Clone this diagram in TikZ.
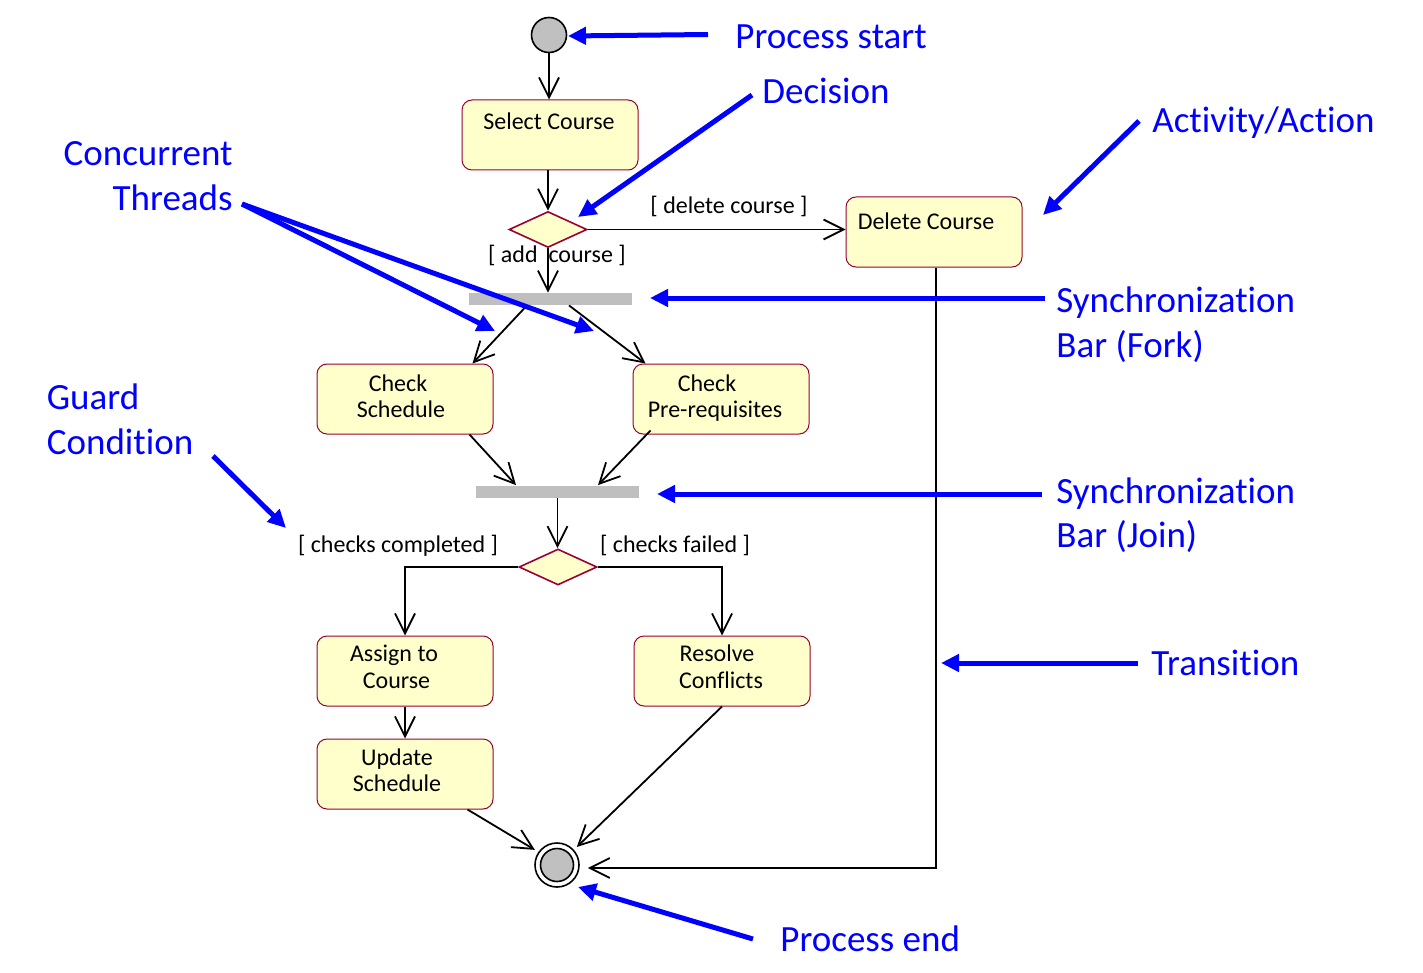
\documentclass[tikz,border=0pt]{standalone}
\usepackage{fontspec}
\setmainfont{Carlito}[Ligatures=NoCommon]
\usetikzlibrary{arrows.meta,shapes.geometric,calc}
\definecolor{boxfill}{HTML}{FFFFCC}
\definecolor{boxline}{HTML}{990033}
\definecolor{bargray}{HTML}{BFBFBF}
\definecolor{startgray}{HTML}{C0C0C0}
\definecolor{annblue}{HTML}{0000FF}
\begin{document}
\begin{tikzpicture}[x=0.5pt,y=-0.5pt,
  actbox/.style={draw=boxline, fill=boxfill, line width=0.5pt, rounded corners=5pt, minimum width=88pt, minimum height=35pt, inner sep=0pt},
  decbox/.style={diamond, draw=boxline, fill=boxfill, line width=0.8pt, minimum width=39pt, minimum height=18pt, inner sep=0pt},
  syncbar/.style={rectangle, fill=bargray, minimum width=81.5pt, minimum height=6pt, inner sep=0pt},
  txt/.style={anchor=base, font=\fontsize{12}{13.3}\selectfont, inner sep=0pt},
  ann/.style={anchor=base west, text=annblue, font=\fontsize{18.5}{22.5}\selectfont, inner sep=0pt},
  flow/.style={draw, line width=0.9pt, -{Straight Barb[length=10pt,width=10pt]}},
  point/.style={draw=annblue, line width=2.5pt, -{Triangle[length=9pt,width=8.5pt]}},
  pseudo/.style={circle, draw, line width=0.8pt, inner sep=0pt}
]
\fill[white] (0,0) rectangle (1423,973);
\useasboundingbox (0,0) rectangle (1423,973);

% activity nodes
\node[pseudo, fill=startgray, minimum size=17.5pt] (start) at (549,35) {};
\node[actbox] (sel) at (550,135) {};
\node[txt] (selt) at (549,129.3) {Select Course};
\node[decbox] (dec1) at (548,229.5) {};
\node[actbox] (del) at (934,232) {};
\node[txt] (delt) at (926,229) {Delete Course};
\node[syncbar] (fork) at (550.5,299) {};
\node[actbox] (chs) at (405,399) {};
\node[txt] (chs1) at (398,391.7) {Check};
\node[txt] (chs2) at (401,417.7) {Schedule};
\node[actbox] (chp) at (721,399) {};
\node[txt] (chp1) at (707,391.7) {Check};
\node[txt] (chp2) at (715,417.7) {Pre-requisites};
\node[syncbar] (join) at (557.5,491.5) {};
\node[decbox] (dec2) at (558,567) {};
\node[actbox] (asg) at (405,671) {};
\node[txt] (asg1) at (394,661.7) {Assign to};
\node[txt] (asg2) at (396.5,688.3) {Course};
\node[actbox] (res) at (722,671) {};
\node[txt] (res1) at (717,661.7) {Resolve};
\node[txt] (res2) at (721,688.3) {Conflicts};
\node[actbox] (upd) at (405,774) {};
\node[txt] (upd1) at (397,765) {Update};
\node[txt] (upd2) at (397,791) {Schedule};
\node[pseudo, fill=white, minimum size=22pt] (end) at (557,865) {};
\node[pseudo, fill=startgray, minimum size=16.5pt] (endin) at (end) {};

% guard labels
\node[txt] (lblDel) at (729,213.3) {[ delete course ]};
\node[txt] (lblAdd) at (557,262.7) {[ add\ \ course ]};
\node[txt] (lblCC) at (398,552.7) {[ checks completed ]};
\node[txt] (lblCF) at (675,552.7) {[ checks failed ]};

% transitions
\draw[flow] (start.south) -- (start.south |- sel.north);
\draw[flow] (dec1.north |- sel.south) -- (dec1.north);
\draw[flow] (dec1.east) -- (dec1.east -| del.west);
\draw[flow] (dec1.south) -- (dec1.south |- fork.north);
\draw[flow] ($(fork.south)+(-23.5,0)$) -- ($(chs.north east)+(-21,0)$);
\draw[flow] ($(fork.south)+(18.5,0)$) -- ($(chp.north west)+(13,0)$);
\draw[flow] ($(chs.south east)+(-24,0)$) -- ($(join.north)+(-41.5,0)$);
\draw[flow] ($(chp.south west)+(18,-4)$) -- ($(join.north)+(40.5,0)$);
\draw[flow] (join.south) -- (join.south |- dec2.north);
\draw[flow] (dec2.west) -| (asg.north);
\draw[flow] (dec2.east) -| (res.north);
\draw[flow] (asg.south) -- (upd.north);
\draw[flow, shorten >=2pt] ($(upd.south east)+(-26,0)$) -- (end.145);
\draw[flow, shorten >=2pt] (res.south) -- (end.42);
\draw[flow, shorten >=4pt] ([xshift=1pt]del.south) |- ([yshift=-1.5pt]end.east);

% annotations
\node[ann] (aPS) at (735,48.5) {Process start};
\node[ann] (aDec) at (762,103.5) {Decision};
\node[ann] (aAct) at (1152,132.5) {Activity/Action};
\node[ann, anchor=base east] (aCT1) at (233,166) {Concurrent};
\node[ann, anchor=base east] (aCT2) at (233,211) {Threads};
\node[ann] (aSF1) at (1056,312.7) {Synchronization};
\node[ann] (aSF2) at (1056,357.3) {Bar (Fork)};
\node[ann] (aGC1) at (46.5,409.3) {Guard};
\node[ann] (aGC2) at (46.5,454) {Condition};
\node[ann] (aSJ1) at (1056,503.3) {Synchronization};
\node[ann] (aSJ2) at (1056,547.7) {Bar (Join)};
\node[ann] (aTr) at (1151,675) {Transition};
\node[ann] (aPE) at (780,951) {Process end};

\coordinate (pPSa) at (708,34.5);  \coordinate (pPSb) at (568,36);
\coordinate (pDeca) at (752,95);   \coordinate (pDecb) at (578,217);
\coordinate (pActa) at (1139,121); \coordinate (pActb) at (1043,215);
\coordinate (pCTa) at (242,204);   \coordinate (pCTb) at (495,331); \coordinate (pCTc) at (594,331);
\coordinate (pSFa) at (1045,298);  \coordinate (pSFb) at (650,298);
\coordinate (pGCa) at (213,456);   \coordinate (pGCb) at (286,528);
\coordinate (pSJa) at (1042,494);  \coordinate (pSJb) at (657,494);
\coordinate (pTra) at (1138,663);  \coordinate (pTrb) at (941,663);
\coordinate (pPEa) at (753,939);   \coordinate (pPEb) at (578,887);

\draw[point] (pPSa) -- (pPSb);
\draw[point] (pDeca) -- (pDecb);
\draw[point] (pActa) -- (pActb);
\draw[point] (pCTa) -- (pCTb);
\draw[point] (pCTa) -- (pCTc);
\draw[point] (pSFa) -- (pSFb);
\draw[point] (pGCa) -- (pGCb);
\draw[point] (pSJa) -- (pSJb);
\draw[point] (pTra) -- (pTrb);
\draw[point] (pPEa) -- (pPEb);
\end{tikzpicture}
\end{document}
